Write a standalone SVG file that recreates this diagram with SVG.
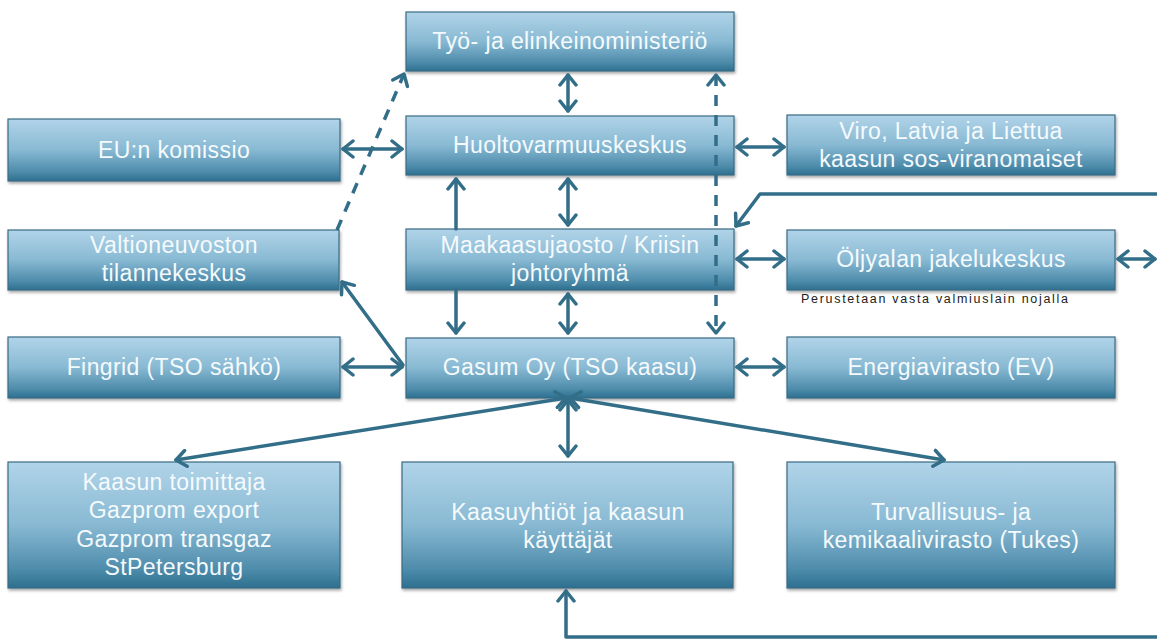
<svg xmlns="http://www.w3.org/2000/svg" width="1157" height="639" viewBox="0 0 1157 639">
<defs>
<linearGradient id="g" x1="0" y1="0" x2="0" y2="1">
<stop offset="0" stop-color="#b1d4e9"/>
<stop offset="0.5" stop-color="#88b9d3"/>
<stop offset="0.85" stop-color="#4e8cab"/>
<stop offset="1" stop-color="#2d6f8f"/>
</linearGradient>
<filter id="sh" x="-5%" y="-10%" width="110%" height="130%">
<feDropShadow dx="1" dy="2" stdDeviation="1.5" flood-color="#000" flood-opacity="0.35"/>
</filter>
<marker id="ah" viewBox="-12 -10 14 20" refX="0" refY="0" markerWidth="14" markerHeight="20" markerUnits="userSpaceOnUse" orient="auto-start-reverse">
<path d="M -10 -8 L 0 0 L -10 8" fill="none" stroke="#336e89" stroke-width="3.5" stroke-linecap="round" stroke-linejoin="round"/>
</marker>
</defs>
<style>
.box{fill:url(#g);stroke:#3a6c84;stroke-width:1.2;filter:url(#sh)}
.t{font-family:"Liberation Sans",Arial,sans-serif;font-size:23px;fill:#f5fafd;text-anchor:middle;letter-spacing:0.4px}
.c{fill:none;stroke:#336e89;stroke-width:3.5;stroke-linecap:round;stroke-linejoin:round}
.d{stroke-dasharray:11 9;stroke-linecap:butt}
.note{font-family:"Liberation Sans",Arial,sans-serif;font-size:12.5px;fill:#222}
</style>
<rect width="1157" height="639" fill="#ffffff"/>

<g id="tem"><rect class="box" x="406" y="12" width="328" height="59"/><text class="t" x="570" y="49">Työ- ja elinkeinoministeriö</text></g>
<g id="huolto"><rect class="box" x="406" y="116" width="328" height="59"/><text class="t" x="570" y="153">Huoltovarmuuskeskus</text></g>
<g id="eu"><rect class="box" x="8" y="119" width="332" height="62"/><text class="t" x="174" y="158">EU:n komissio</text></g>
<g id="viro"><rect class="box" x="787" y="115" width="328" height="60"/><text class="t" x="951" y="139">Viro, Latvia ja Liettua</text><text class="t" x="951" y="167">kaasun sos-viranomaiset</text></g>
<g id="valtioneuvosto"><rect class="box" x="8" y="230" width="331" height="60"/><text class="t" x="174" y="253">Valtioneuvoston</text><text class="t" x="174" y="281">tilannekeskus</text></g>
<g id="maakaasu"><rect class="box" x="406" y="229" width="328" height="61"/><text class="t" x="570" y="253">Maakaasujaosto / Kriisin</text><text class="t" x="570" y="281">johtoryhmä</text></g>
<g id="oljy"><rect class="box" x="787" y="230" width="328" height="60"/><text class="t" x="951" y="267">Öljyalan jakelukeskus</text></g>
<text class="note" x="801" y="303" textLength="267" lengthAdjust="spacing">Perustetaan vasta valmiuslain nojalla</text>
<g id="fingrid"><rect class="box" x="8" y="337" width="332" height="61"/><text class="t" x="174" y="375">Fingrid (TSO sähkö)</text></g>
<g id="gasum"><rect class="box" x="406" y="338" width="328" height="60"/><text class="t" x="570" y="375">Gasum Oy (TSO kaasu)</text></g>
<g id="ev"><rect class="box" x="787" y="337" width="328" height="61"/><text class="t" x="951" y="375">Energiavirasto (EV)</text></g>
<g id="toimittaja"><rect class="box" x="8" y="462" width="332" height="126"/><text class="t" x="174" y="490">Kaasun toimittaja</text><text class="t" x="174" y="518">Gazprom export</text><text class="t" x="174" y="547">Gazprom transgaz</text><text class="t" x="174" y="575">StPetersburg</text></g>
<g id="kaasuyhtiot"><rect class="box" x="402" y="462" width="331" height="126"/><text class="t" x="568" y="520">Kaasuyhtiöt ja kaasun</text><text class="t" x="568" y="548">käyttäjät</text></g>
<g id="tukes"><rect class="box" x="787" y="462" width="328" height="126"/><text class="t" x="951" y="520">Turvallisuus- ja</text><text class="t" x="951" y="548">kemikaalivirasto (Tukes)</text></g>

<g id="connectors">
<line class="c" x1="568" y1="75" x2="568" y2="111" marker-start="url(#ah)" marker-end="url(#ah)"/>
<line class="c d" x1="337" y1="230" x2="404" y2="74" marker-end="url(#ah)"/>
<line class="c" x1="343" y1="149" x2="402" y2="149" marker-start="url(#ah)" marker-end="url(#ah)"/>
<line class="c" x1="737" y1="147" x2="784" y2="147" marker-start="url(#ah)" marker-end="url(#ah)"/>
<line class="c d" x1="716" y1="75" x2="716" y2="333" marker-start="url(#ah)" marker-end="url(#ah)"/>
<line class="c" x1="456" y1="229" x2="456" y2="179" marker-end="url(#ah)"/>
<line class="c" x1="568" y1="179" x2="568" y2="225" marker-start="url(#ah)" marker-end="url(#ah)"/>
<line class="c" x1="737" y1="259" x2="784" y2="259" marker-start="url(#ah)" marker-end="url(#ah)"/>
<line class="c" x1="1118" y1="259" x2="1155" y2="259" marker-start="url(#ah)" marker-end="url(#ah)"/>
<polyline class="c" points="1160,194 760,194 736,226" marker-end="url(#ah)"/>
<line class="c" x1="456" y1="290" x2="456" y2="333" marker-end="url(#ah)"/>
<line class="c" x1="568" y1="294" x2="568" y2="333" marker-start="url(#ah)" marker-end="url(#ah)"/>
<line class="c" x1="403" y1="365" x2="342" y2="282" marker-end="url(#ah)"/>
<line class="c" x1="343" y1="367" x2="402" y2="367" marker-start="url(#ah)" marker-end="url(#ah)"/>
<line class="c" x1="737" y1="367" x2="784" y2="367" marker-start="url(#ah)" marker-end="url(#ah)"/>
<line class="c" x1="566" y1="398" x2="176" y2="460" marker-start="url(#ah)" marker-end="url(#ah)"/>
<line class="c" x1="568" y1="400" x2="568" y2="456" marker-start="url(#ah)" marker-end="url(#ah)"/>
<line class="c" x1="570" y1="398" x2="944" y2="460" marker-start="url(#ah)" marker-end="url(#ah)"/>
<polyline class="c" points="1160,637 566,637 566,591" marker-end="url(#ah)"/>
</g>
</svg>
